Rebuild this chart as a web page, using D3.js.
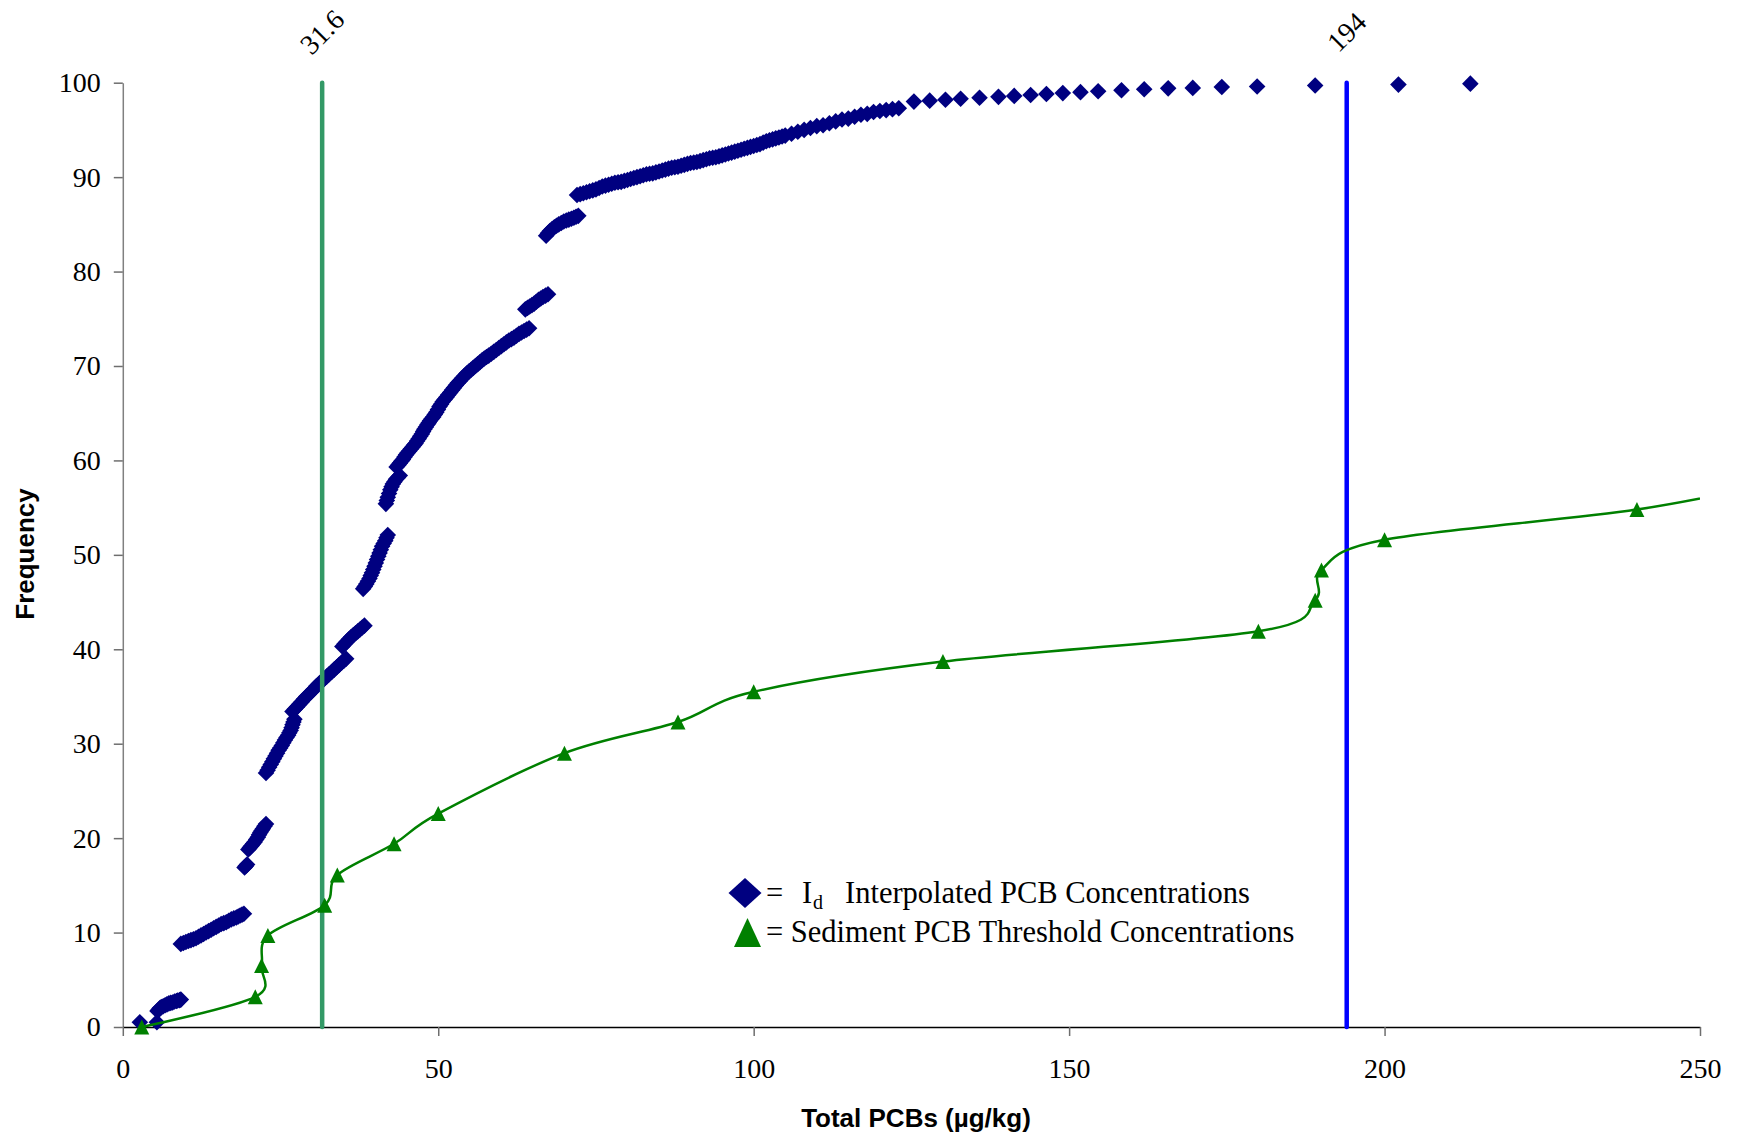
<!DOCTYPE html>
<html><head><meta charset="utf-8">
<script src="https://cdn.jsdelivr.net/npm/d3@7"></script>
<style>body{margin:0;background:#fff} svg{display:block}</style>
</head><body>
<svg id="chart" width="1739" height="1138"></svg>
<script>
// I_d interpolated PCB concentrations (cumulative frequency)
const idConc = [
 2.7, 5.4,
 5.5, 5.7, 5.9, 6.1, 6.4, 6.7, 7.0, 7.3, 7.6, 7.9, 8.2, 8.5, 8.7, 9.0, 9.2,
 9.2, 9.6, 10.0, 10.4, 10.8, 11.2, 11.6, 12.0, 12.4, 12.8, 13.2, 13.6, 14.0, 14.4, 14.8, 15.2, 15.6, 16.0,
 16.4, 16.8, 17.2, 17.6, 18.0, 18.3, 18.6, 18.9, 19.2,
 19.3, 19.5, 19.7,
 19.9, 20.15, 20.4, 20.65, 20.9, 21.15, 21.4, 21.6, 21.8, 22.0, 22.2, 22.45, 22.7,
 22.7, 22.95, 23.2, 23.45, 23.7, 23.95, 24.2, 24.45, 24.7, 24.95, 25.2, 25.45, 25.7, 25.95, 26.2, 26.4, 26.6,
 26.75, 26.9, 27.05, 27.2,
 26.9, 27.25, 27.6, 27.95, 28.3, 28.7, 29.1, 29.5, 29.9, 30.3, 30.7, 31.1, 31.5, 31.9, 32.3, 32.7, 33.1,
 33.5, 33.9, 34.3, 34.7, 35.05, 35.4,
 34.8, 35.15, 35.5, 35.85, 36.2, 36.55, 36.9, 37.25, 37.6, 37.95, 38.3,
 38.1, 38.35, 38.6, 38.85, 39.1, 39.3, 39.5, 39.7, 39.9, 40.1, 40.3, 40.5, 40.7, 40.9, 41.1, 41.35, 41.6,
 41.8, 42.0,
 41.7, 41.85, 42.0, 42.2, 42.4, 42.6, 42.8, 43.05, 43.3, 43.6, 43.9,
 43.4, 43.65, 43.9, 44.15, 44.4, 44.65, 44.9, 45.15, 45.4, 45.65, 45.9, 46.15, 46.4, 46.65, 46.9, 47.15, 47.4,
 47.6, 47.8, 48.05, 48.3, 48.5, 48.7, 48.95, 49.2, 49.45, 49.7, 49.95, 50.2, 50.45, 50.7, 51.0, 51.3, 51.6,
 51.9, 52.2, 52.5, 52.8, 53.1, 53.45, 53.8, 54.15, 54.5, 54.85, 55.2, 55.55, 55.9, 56.25, 56.6, 56.95, 57.3,
 57.65, 58.0, 58.4, 58.8, 59.2, 59.6, 60.0, 60.4, 60.8, 61.2, 61.6, 62.0, 62.4, 62.8, 63.2, 63.6, 64.0, 64.4,
 63.8, 64.15, 64.5, 64.85, 65.2, 65.55, 65.9, 66.25, 66.6, 67.0, 67.4,
 67.1, 67.4, 67.7, 68.05, 68.4, 68.75, 69.1, 69.5, 69.9, 70.3, 70.7, 71.1, 71.5, 71.85, 72.2,
 72, 72.5, 73, 73.5, 74, 74.5, 75, 75.5, 76, 76.5, 77, 77.5, 78, 78.5, 79, 79.5, 80, 80.5, 81, 81.5, 82,
 82.5, 83, 83.5, 84, 84.5, 85, 85.5, 86, 86.5, 87, 87.5, 88, 88.5, 89, 89.5, 90, 90.5, 91, 91.5, 92,
 92.5, 93, 93.5, 94, 94.5, 95, 95.5, 96, 96.5, 97, 97.5, 98, 98.5, 99, 99.5, 100, 100.5, 101, 101.5, 102,
 102.5, 103, 103.5, 104, 104.5, 105,
 106, 107, 108, 109, 110, 111, 112, 113, 114, 115, 116, 117, 118, 119, 120, 121, 122, 123,
 125.4, 127.9, 130.4, 132.8, 135.8, 138.8, 141.3, 143.9, 146.4, 149.0, 151.8, 154.6, 158.3, 161.9, 165.7,
 169.6, 174.2, 179.8, 189.0, 202.2, 213.6
];
const idFreq = [
 0.5, 0.5,
 1.7, 1.85, 2.0, 2.1, 2.2, 2.3, 2.4, 2.5, 2.55, 2.6, 2.7, 2.75, 2.8, 2.85, 2.9,
 8.8, 8.9, 9.0, 9.1, 9.2, 9.3, 9.4, 9.55, 9.7, 9.85, 10.0, 10.15, 10.3, 10.45, 10.6, 10.75, 10.9, 11.0,
 11.1, 11.25, 11.4, 11.5, 11.6, 11.7, 11.8, 11.9, 12.0,
 16.9, 17.05, 17.2,
 18.8, 19.0, 19.2, 19.4, 19.6, 19.85, 20.1, 20.35, 20.6, 20.8, 21.0, 21.25, 21.5,
 26.9, 27.2, 27.5, 27.8, 28.1, 28.4, 28.7, 29.0, 29.3, 29.55, 29.8, 30.1, 30.4, 30.65, 30.9, 31.15, 31.4,
 31.7, 32.0, 32.3, 32.6,
 33.4, 33.65, 33.9, 34.15, 34.4, 34.7, 35.0, 35.25, 35.5, 35.8, 36.1, 36.35, 36.6, 36.85, 37.1, 37.35, 37.6,
 37.85, 38.1, 38.35, 38.6, 38.8, 39.0,
 40.3, 40.55, 40.8, 41.05, 41.3, 41.5, 41.7, 41.9, 42.1, 42.3, 42.5,
 46.4, 46.65, 46.9, 47.2, 47.5, 47.8, 48.1, 48.45, 48.8, 49.15, 49.5, 49.85, 50.2, 50.55, 50.9, 51.2, 51.5,
 51.8, 52.1,
 55.4, 55.75, 56.1, 56.5, 56.9, 57.2, 57.5, 57.75, 58.0, 58.2, 58.4,
 59.3, 59.5, 59.7, 59.9, 60.1, 60.35, 60.6, 60.8, 61.0, 61.2, 61.4, 61.6, 61.8, 62.05, 62.3, 62.55, 62.8,
 63.05, 63.3, 63.55, 63.8, 64.0, 64.2, 64.4, 64.6, 64.85, 65.1, 65.4, 65.7, 65.95, 66.2, 66.45, 66.7, 66.95,
 67.2, 67.45, 67.7, 67.95, 68.2, 68.45, 68.7, 68.95, 69.2, 69.4, 69.6, 69.8, 70.0, 70.2, 70.4, 70.6, 70.8,
 70.95, 71.1, 71.3, 71.5, 71.7, 71.9, 72.1, 72.3, 72.5, 72.7, 72.85, 73.0, 73.2, 73.4, 73.55, 73.7, 73.85, 74.0,
 76.0, 76.15, 76.3, 76.45, 76.6, 76.8, 77.0, 77.15, 77.3, 77.45, 77.6,
 83.8, 84.05, 84.3, 84.5, 84.7, 84.85, 85.0, 85.15, 85.3, 85.4, 85.5, 85.6, 85.7, 85.8, 85.9,
 88.1, 88.2, 88.3, 88.4, 88.5, 88.6, 88.7, 88.85, 89.0, 89.1, 89.2, 89.3, 89.4, 89.45, 89.5, 89.6, 89.7, 89.8,
 89.9, 90.0, 90.1,
 90.2, 90.3, 90.35, 90.4, 90.5, 90.6, 90.7, 90.8, 90.9, 91.0, 91.05, 91.1, 91.2, 91.3, 91.4, 91.5, 91.55,
 91.6, 91.7, 91.8,
 91.9, 92.0, 92.05, 92.1, 92.2, 92.3, 92.4, 92.5, 92.6, 92.7, 92.8, 92.9, 93.0, 93.1, 93.2, 93.3, 93.4,
 93.5, 93.65, 93.8,
 93.9, 94.0, 94.1, 94.2, 94.3, 94.4,
 94.6, 94.8, 95.0, 95.2, 95.4, 95.5, 95.7, 95.9, 96.1, 96.2, 96.4, 96.6, 96.7, 96.9, 97.0, 97.1, 97.2, 97.3,
 98.0, 98.1, 98.2, 98.3, 98.4, 98.5, 98.6, 98.7, 98.8, 98.9, 99.0, 99.1, 99.2, 99.3, 99.4,
 99.45, 99.55, 99.6, 99.7, 99.8, 99.9
];
// Sediment PCB threshold concentrations
const thrConc = [3, 21, 22, 23, 32, 34, 43, 50, 70, 88, 100, 130, 180, 189, 190, 200, 240, 265];
const thrFreq = [0, 3.2, 6.5, 9.7, 12.9, 16.1, 19.4, 22.6, 29.0, 32.3, 35.5, 38.7, 41.9, 45.2, 48.4, 51.6, 54.8, 58.1];
// vertical reference lines
const refValues = [31.6, 194];
const refLabels = ["31.6", "194"];
const refColors = ["#339966", "#0000ff"];
const xTicks = [0, 50, 100, 150, 200, 250];
const yTicks = [0, 10, 20, 30, 40, 50, 60, 70, 80, 90, 100];
const xTitle = "Total PCBs (\u00b5g/kg)";
const yTitle = "Frequency";

const W = 1739, H = 1138;
const svg = d3.select('#chart');
const serif = '"Liberation Serif","Times New Roman",serif';
const sans = '"Liberation Sans",Arial,sans-serif';
const x = d3.scaleLinear().domain([0, 250]).range([122.8, 1700]);
const y = d3.scaleLinear().domain([0, 100]).range([1027, 82.7]);

svg.append('rect').attr('width', W).attr('height', H).attr('fill', '#fff');
svg.append('defs').append('clipPath').attr('id', 'plot')
  .append('rect').attr('x', x(0)).attr('y', 0).attr('width', x(250) - x(0)).attr('height', H);

// Y axis
const gy = svg.append('g').attr('transform', `translate(${x(0)},0)`)
  .call(d3.axisLeft(y).tickValues(yTicks).tickSize(9).tickSizeOuter(0).tickPadding(13));
gy.select('.domain').attr('stroke', '#808080').attr('stroke-width', 1.5);
gy.selectAll('.tick line').attr('stroke', '#6e6e6e').attr('stroke-width', 1.5);
gy.selectAll('.tick text').attr('font-family', serif).attr('font-size', 28).attr('fill', '#000');

// X axis
const gx = svg.append('g').attr('transform', `translate(0,${y(0)})`)
  .call(d3.axisBottom(x).tickValues(xTicks).tickSize(9).tickSizeOuter(0).tickPadding(22));
gx.select('.domain').attr('stroke', '#000').attr('stroke-width', 1.5);
gx.selectAll('.tick line').attr('stroke', '#6e6e6e').attr('stroke-width', 1.5);
gx.selectAll('.tick text').attr('font-family', serif).attr('font-size', 28).attr('fill', '#000');

// Id diamonds
const idData = idConc.map((c, i) => ({c, f: idFreq[i]}));
const diamond = 'M0,-8.3L8.3,0L0,8.3L-8.3,0Z';
svg.append('g').selectAll('path').data(idData).join('path')
  .attr('d', diamond)
  .attr('transform', d => `translate(${x(d.c)},${y(d.f)})`)
  .attr('fill', '#000080');

// reference lines
const refG = svg.append('g');
refValues.forEach((v, i) => {
  refG.append('line')
    .attr('x1', x(v)).attr('x2', x(v)).attr('y1', y(100)).attr('y2', y(0))
    .attr('stroke', refColors[i]).attr('stroke-width', 4.5).attr('stroke-linecap', 'round');
  refG.append('text')
    .attr('transform', `translate(${x(v)},32) rotate(-45)`)
    .attr('text-anchor', 'middle').attr('dominant-baseline', 'central')
    .attr('font-family', serif).attr('font-size', 28).attr('fill', '#000')
    .text(refLabels[i]);
});

// threshold series (smoothed line + triangles)
const thrData = thrConc.map((c, i) => ({c, f: thrFreq[i]}));
const line = d3.line().x(d => x(d.c)).y(d => y(d.f)).curve(d3.curveCardinal.tension(0));
const thrG = svg.append('g').attr('clip-path', 'url(#plot)');
thrG.append('path').datum(thrData).attr('d', line)
  .attr('fill', 'none').attr('stroke', '#008000').attr('stroke-width', 2.5);
const tri = 'M0,-7.5L7.5,7.5L-7.5,7.5Z';
thrG.selectAll('path.tri').data(thrData).join('path').attr('class', 'tri')
  .attr('d', tri)
  .attr('transform', d => `translate(${x(d.c)},${y(d.f)})`)
  .attr('fill', '#008000');

// legend
const lg = svg.append('g');
lg.append('path').attr('d', 'M0,-15L16.5,0L0,15L-16.5,0Z').attr('transform', 'translate(745,893)').attr('fill', '#000080');
lg.append('path').attr('d', 'M0,-14.5L13.5,14.5L-13.5,14.5Z').attr('transform', 'translate(747.5,932.5)').attr('fill', '#008000');
const t1 = lg.append('text').attr('font-family', serif).attr('font-size', 30.5).attr('fill', '#000').attr('y', 903);
t1.append('tspan').attr('x', 766).text('=');
t1.append('tspan').attr('x', 802).text('I');
t1.append('tspan').attr('x', 813).attr('dy', 6).attr('font-size', 20).text('d');
t1.append('tspan').attr('x', 845).attr('dy', -6).text('Interpolated PCB Concentrations');
lg.append('text').attr('font-family', serif).attr('font-size', 30.5).attr('fill', '#000')
  .attr('x', 766).attr('y', 942).text('= Sediment PCB Threshold Concentrations');

// axis titles
svg.append('text').attr('x', 916).attr('y', 1127).attr('text-anchor', 'middle')
  .attr('font-family', sans).attr('font-weight', 'bold').attr('font-size', 26).attr('fill', '#000')
  .text(xTitle);
svg.append('text').attr('transform', 'translate(34,554) rotate(-90)').attr('text-anchor', 'middle')
  .attr('font-family', sans).attr('font-weight', 'bold').attr('font-size', 26).attr('fill', '#000')
  .text(yTitle);
</script>
</body></html>
